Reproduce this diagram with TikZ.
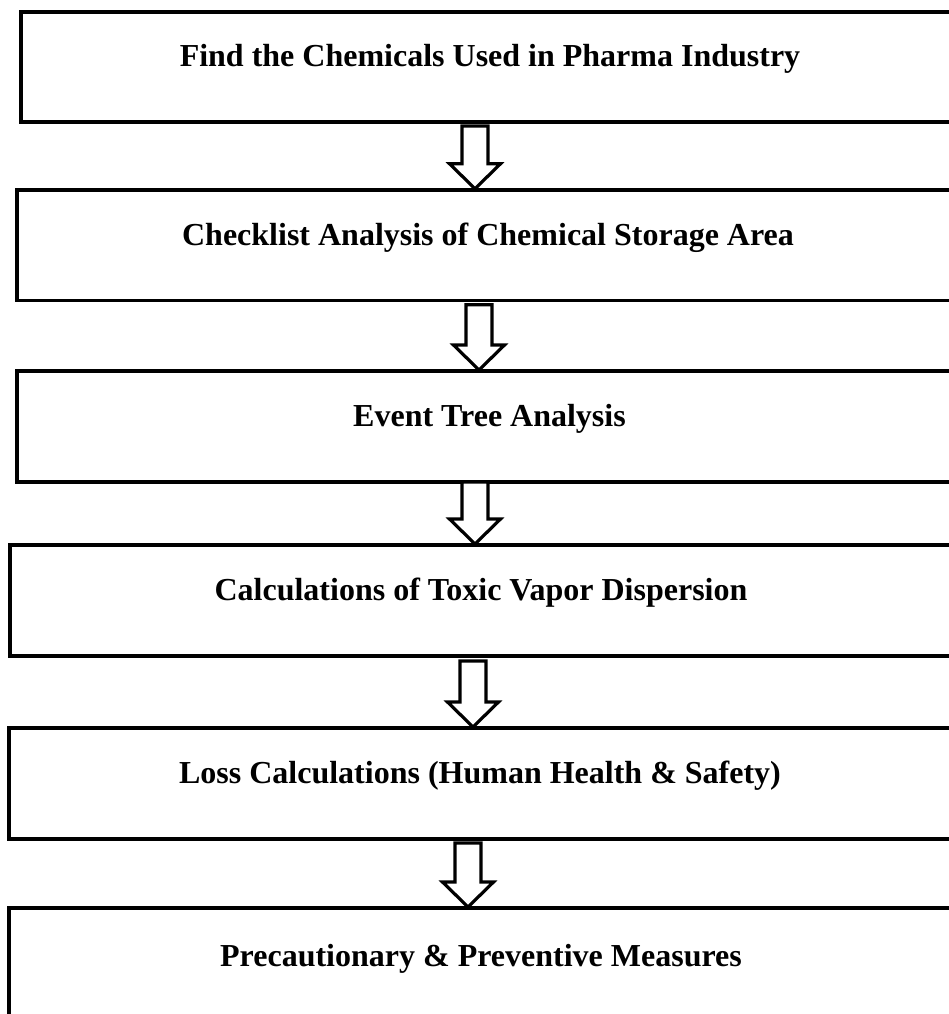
\documentclass[tikz,border=0pt]{standalone}
\usepackage{fontspec}
\setmainfont{Liberation Serif}
\usetikzlibrary{calc}

\tikzset{
  stagebox/.style={draw, line width=3.5pt, outer sep=0pt, inner sep=0pt,
    text height=22pt, text depth=22pt,
    font=\bfseries\fontsize{32}{38}\selectfont},
  hollowarrow/.style={draw, line width=3.2pt, fill=white},
}

\begin{document}
\begin{tikzpicture}[x=1pt, y=-1pt]
        \useasboundingbox (0,0) rectangle (949,1014);

        % the six stages
        \node[stagebox, minimum width=938pt, minimum height=110pt] (find) at (490,67) {Find the Chemicals Used in Pharma Industry};
        \node[stagebox, minimum width=942pt, minimum height=110.5pt] (check) at (488,245) {Checklist Analysis of Chemical Storage Area};
        \node[stagebox, minimum width=945pt, minimum height=111pt] (event) at (489.5,426.5) {Event Tree Analysis};
        \node[stagebox, minimum width=942.5pt, minimum height=111pt] (toxic) at (481,600.5) {Calculations of Toxic Vapor Dispersion};
        \node[stagebox, minimum width=942pt, minimum height=111pt] (loss) at (480,783.5) {Loss Calculations (Human Health \& Safety)};
        \node[stagebox, minimum width=944pt, minimum height=116pt] (measures) at (481,966) {Precautionary \& Preventive Measures};

        % block arrows between stages
        \foreach \src/\dst/\ax/\gap in {find/check/475/4, check/event/479/4.5, event/toxic/475/0, toxic/loss/473/5, loss/measures/468/4} {
            \coordinate (ref) at (\ax,0);
            \coordinate (top) at ($(ref |- \src.south)+(0,\gap)$);
            \coordinate (tip) at ($(ref |- \dst.north)+(0,-1)$);
            \draw[hollowarrow] ($(top)+(-13,0)$) -- ($(top)+(13,0)$) -- ($(tip)+(13,-25)$) -- ($(tip)+(25.5,-25)$)
                -- (tip) -- ($(tip)+(-25.5,-25)$) -- ($(tip)+(-13,-25)$) -- cycle;
        }
    \end{tikzpicture}
\end{document}
